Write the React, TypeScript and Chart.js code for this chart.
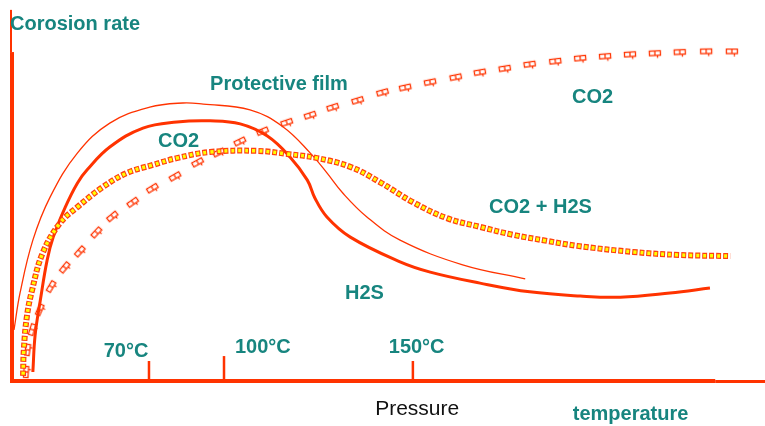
import React, { useEffect, useRef } from "react";
import { Chart, registerables } from "chart.js";

Chart.register(...registerables);

// ---------- DATA (x: temperature/pressure 0..100, y: corrosion rate 0..100) ----------
// "Protective film" thin curve
const filmX = [0.4, 1.2, 2.9, 5.2, 8.8, 13.1, 18.4, 22.8, 25.5, 31.7, 36.1, 39.7, 41.9, 44.0, 47.2, 51.6, 59.9, 68.2];
const filmY = [13.2, 22.9, 36.8, 48.2, 59.7, 67.6, 71.8, 72.9, 72.6, 71.1, 66.6, 59.7, 54.5, 49.2, 42.9, 36.8, 30.3, 26.6];

// thick curve: CO2 rising, H2S falling
const h2sX = [2.9, 3.2, 3.9, 4.8, 5.6, 7.2, 8.8, 10.1, 13.1, 17.5, 22.0, 26.4, 30.4, 34.0, 37.0, 39.3, 40.3, 41.9, 45.0, 51.6, 55.6, 62.2, 68.8, 75.5, 80.8, 87.4, 92.7];
const h2sY = [2.1, 11.8, 21.1, 31.6, 37.6, 45.5, 51.8, 55.3, 61.3, 66.3, 67.9, 68.2, 67.4, 64.2, 58.7, 52.6, 47.9, 42.9, 37.6, 31.1, 28.4, 25.5, 23.2, 22.1, 21.8, 22.9, 24.2];

// CO2 + H2S (yellow squares)
const mixX = [1.6, 1.7, 2.1, 2.8, 4.2, 6.5, 8.8, 12.2, 15.4, 18.8, 22.0, 26.4, 32.6, 36.6, 40.6, 45.0, 48.9, 53.3, 57.8, 62.2, 66.6, 71.1, 75.1, 82.5, 88.7, 95.4];
const mixY = [1.1, 7.9, 16.6, 23.7, 33.4, 41.3, 45.5, 50.8, 54.5, 56.6, 58.4, 60.0, 60.3, 59.5, 58.4, 56.1, 52.1, 46.8, 42.6, 40.3, 38.2, 36.6, 35.3, 33.7, 32.9, 32.6];

// CO2 (open markers)
const co2X = [2.1, 2.3, 2.9, 3.9, 5.4, 7.2, 9.2, 11.4, 13.5, 16.2, 18.8, 21.8, 24.8, 27.6, 30.4, 33.4, 36.6, 39.7, 42.7, 46.0, 49.3, 52.3, 55.6, 59.0, 62.2, 65.5, 68.8, 72.2, 75.5, 78.8, 82.1, 85.4, 88.7, 92.2, 95.6];
const co2Y = [2.1, 7.9, 13.2, 18.4, 24.5, 29.5, 33.7, 38.7, 42.9, 46.6, 50.3, 53.4, 57.1, 59.7, 62.6, 65.3, 67.6, 69.5, 71.6, 73.4, 75.5, 76.8, 78.2, 79.5, 80.8, 81.8, 82.9, 83.7, 84.5, 85.0, 85.5, 85.8, 86.1, 86.3, 86.3];

// temperature marks on the x axis
const tempTickX = [18.3, 28.25, 53.3];
const tempTickLabels = ["70°C", "100°C", "150°C"];

// ---------- STYLE / LAYOUT ----------
const RED = "#ff3300";
const TEAL = "#17857f";
const BOLD = 'bold 20px "Liberation Sans", Arial, sans-serif';
const REG = '21px "Liberation Sans", Arial, sans-serif';

const tickHeights = [5, 6.3, 5];
const annotations = [
  { text: "Corosion rate", x: -0.13, y: 92.1, font: BOLD, color: TEAL },
  { text: "Protective film", x: 26.4, y: 76.3, font: BOLD, color: TEAL },
  { text: "CO2", x: 74.4, y: 72.9, font: BOLD, color: TEAL },
  { text: "CO2", x: 19.5, y: 61.3, font: BOLD, color: TEAL },
  { text: "CO2 + H2S", x: 63.4, y: 43.9, font: BOLD, color: TEAL },
  { text: "H2S", x: 44.3, y: 21.3, font: BOLD, color: TEAL },
  { text: tempTickLabels[0], x: 12.3, y: 6.05, font: BOLD, color: TEAL },
  { text: tempTickLabels[1], x: 29.7, y: 7.1, font: BOLD, color: TEAL },
  { text: tempTickLabels[2], x: 50.1, y: 7.1, font: BOLD, color: TEAL },
  { text: "Pressure", x: 48.3, y: -9.2, font: REG, color: "#111111" },
  { text: "temperature", x: 74.5, y: -10.5, font: BOLD, color: TEAL },
];

const toPts = (xs: number[], ys: number[]) => xs.map((x, i) => ({ x, y: ys[i] }));

function makeMarker() {
  const c = document.createElement("canvas");
  c.width = 14;
  c.height = 9;
  const g = c.getContext("2d")!;
  g.strokeStyle = RED;
  g.lineWidth = 1.3;
  g.strokeRect(1.5, 1.5, 11, 4.5);
  g.beginPath();
  g.moveTo(7, 1.5);
  g.lineTo(7, 6);
  g.moveTo(9.5, 6);
  g.lineTo(9.5, 8.5);
  g.stroke();
  return c;
}

const decorPlugin = {
  id: "decor",
  beforeDatasetsDraw(chart: any) {
    const { ctx, chartArea, scales } = chart;
    const px = (v: number) => scales.x.getPixelForValue(v);
    const py = (v: number) => scales.y.getPixelForValue(v);
    const L = chartArea.left;
    const B = chartArea.bottom;
    ctx.save();
    ctx.fillStyle = RED;
    // vertical axis
    ctx.fillRect(L - 1, py(97.4), 2, py(86.3) - py(97.4));
    ctx.fillRect(L - 1, py(86.3), 4, B + 3 - py(86.3));
    // horizontal axis
    const xEnd = px(93.4);
    ctx.fillRect(L - 1, B - 1, xEnd - L + 1, 4);
    ctx.fillRect(xEnd, B, chartArea.right - xEnd, 3);
    // temperature ticks
    ctx.strokeStyle = RED;
    ctx.lineWidth = 2.5;
    tempTickX.forEach((t, i) => {
      ctx.beginPath();
      ctx.moveTo(px(t), py(0));
      ctx.lineTo(px(t), py(tickHeights[i]));
      ctx.stroke();
    });
    ctx.restore();
  },
  afterDraw(chart: any) {
    const { ctx, scales } = chart;
    ctx.save();
    ctx.textAlign = "left";
    ctx.textBaseline = "alphabetic";
    annotations.forEach((a) => {
      ctx.font = a.font;
      ctx.fillStyle = a.color;
      ctx.fillText(a.text, scales.x.getPixelForValue(a.x), scales.y.getPixelForValue(a.y));
    });
    ctx.restore();
  },
};

export default function App() {
  const ref = useRef<HTMLCanvasElement>(null);
  useEffect(() => {
    if (!ref.current) return;
    const marker = makeMarker();
    const chart = new Chart(ref.current, {
      type: "line",
      data: {
        datasets: [
          {
            label: "Protective film",
            data: toPts(filmX, filmY),
            borderColor: RED,
            borderWidth: 1.3,
            pointRadius: 0,
            tension: 0.4,
            clip: false,
            order: 5,
          } as any,
          {
            label: "CO2 / H2S",
            data: toPts(h2sX, h2sY),
            borderColor: RED,
            borderWidth: 3,
            pointRadius: 0,
            tension: 0.4,
            clip: false,
            order: 4,
          } as any,
          {
            label: "CO2",
            data: toPts(co2X, co2Y),
            showLine: false,
            pointStyle: marker,
            pointRadius: 4,
            rotation: (c: any) => {
              const i = c.dataIndex;
              const n = co2X.length;
              const a = Math.max(0, i - 1);
              const b = Math.min(n - 1, i + 1);
              const sx = c.chart.scales.x;
              const sy = c.chart.scales.y;
              const dx = sx.getPixelForValue(co2X[b]) - sx.getPixelForValue(co2X[a]);
              const dy = sy.getPixelForValue(co2Y[b]) - sy.getPixelForValue(co2Y[a]);
              return (Math.atan2(dy, dx) * 180) / Math.PI;
            },
            clip: false,
            order: 3,
          } as any,
          {
            label: "CO2 + H2S border",
            data: toPts(mixX, mixY),
            borderColor: "#ff4010",
            borderWidth: 6,
            borderDash: [5, 2],
            pointRadius: 0,
            tension: 0.4,
            clip: false,
            order: 2,
          } as any,
          {
            label: "CO2 + H2S",
            data: toPts(mixX, mixY),
            borderColor: "#ffff00",
            borderWidth: 3.5,
            borderDash: [3, 4],
            borderDashOffset: 6,
            pointRadius: 0,
            tension: 0.4,
            clip: false,
            order: 1,
          } as any,
        ],
      },
      options: {
        animation: false,
        responsive: false,
        layout: { autoPadding: false, padding: { left: 11, top: 0, right: 0, bottom: 46 } },
        plugins: { legend: { display: false }, tooltip: { enabled: false } },
        scales: {
          x: { type: "linear", min: 0, max: 100, display: false },
          y: { type: "linear", min: 0, max: 100, display: false },
        },
      },
      plugins: [decorPlugin],
    });
    return () => chart.destroy();
  }, []);
  return (
    <div style={{ position: "absolute", left: 0, top: 0, width: 765, height: 426, background: "#fff" }}>
      <canvas ref={ref} width={765} height={426} />
    </div>
  );
}
